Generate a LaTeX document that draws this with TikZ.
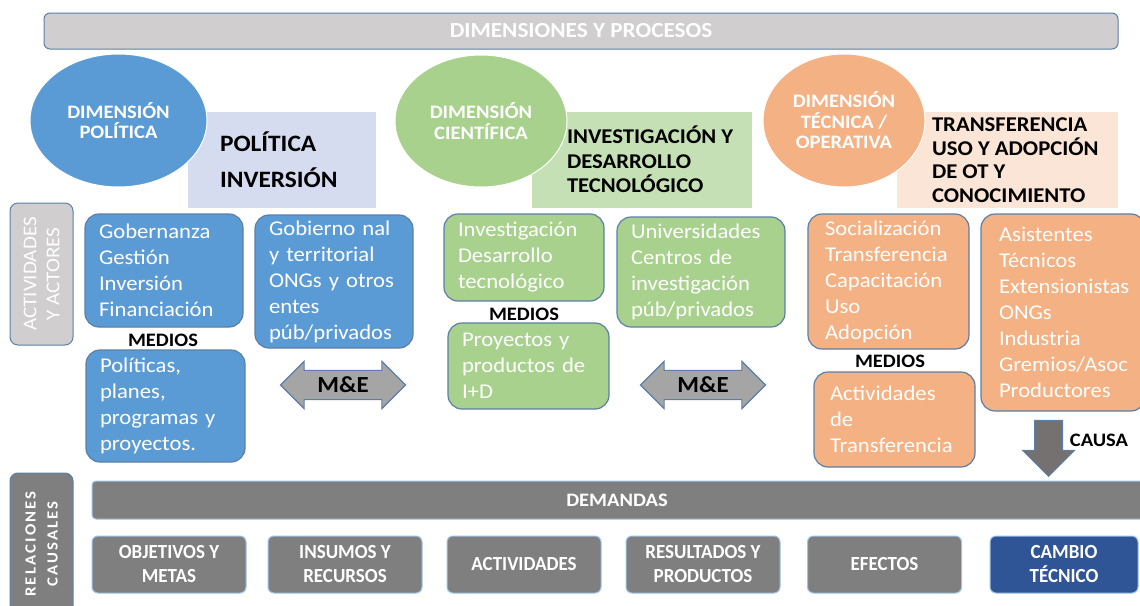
\documentclass[tikz,border=0pt]{standalone}
\usepackage{fontspec}
\setmainfont{Carlito}[FakeStretch=1.08]
\newfontfamily\narrowfont{Carlito}[FakeStretch=0.95]
\usetikzlibrary{shapes.geometric,shapes.arrows}

\definecolor{topgray}{HTML}{D0CECE}
\definecolor{edgeblue}{HTML}{5B7FA6}
\definecolor{lightedge}{HTML}{9DC3E6}
\definecolor{polblue}{HTML}{5B9BD5}
\definecolor{polpale}{HTML}{D5DCEF}
\definecolor{cienverde}{HTML}{A9D18E}
\definecolor{cienpale}{HTML}{C5E0B4}
\definecolor{tecnaranja}{HTML}{F4B183}
\definecolor{tecpale}{HTML}{FBE5D6}
\definecolor{demgray}{HTML}{7F7F7F}
\definecolor{megray}{HTML}{A5A5A5}
\definecolor{causegray}{HTML}{767171}
\definecolor{cambioblue}{HTML}{2F5597}

\tikzset{
  dimcircle/.style={ellipse, draw=white, line width=1pt, text=white, align=center, inner sep=0pt,
    font=\fontsize{19}{20.5}\selectfont\bfseries},
  headbox/.style={rectangle, minimum height=96pt, inner sep=0pt},
  headtext/.style={anchor=west, align=left, inner sep=0pt},
  cbox/.style={rectangle, rounded corners=14pt, draw=edgeblue, line width=1.2pt, text=white, align=left,
    inner xsep=14pt, inner ysep=0pt, font=\fontsize{21}{26}\selectfont},
  medios/.style={font=\fontsize{19}{20}\selectfont\bfseries, inner sep=0pt},
  mearrow/.style={double arrow, fill=megray, draw=edgeblue, line width=1.2pt, minimum height=125pt,
    double arrow head extend=9pt, inner sep=6pt, font=\fontsize{23}{24}\selectfont\bfseries},
  sidebox/.style={rectangle, rounded corners=8pt, draw=edgeblue, line width=1pt, rotate=90, text=white,
    align=center, minimum width=142pt, minimum height=63pt},
  chainbox/.style={rectangle, rounded corners=6pt, fill=demgray, draw=lightedge, line width=1pt,
    minimum width=154pt, minimum height=57pt, text=white, align=center,
    font=\narrowfont\fontsize{20}{24}\selectfont\bfseries}
}

\begin{document}
\begin{tikzpicture}[x=1pt,y=-1pt]
\useasboundingbox (0,0) rectangle (1140,605);

\node[rectangle, rounded corners=6pt, fill=topgray, draw=edgeblue, line width=1pt, minimum width=1074pt,
  minimum height=36pt, text=white, font=\fontsize{21.5}{22}\selectfont\bfseries] (procesos) at (581,31)
  {DIMENSIONES Y PROCESOS};

\node[headbox, fill=polpale, minimum width=188pt] (polrect) at (282,160) {};
\node[headtext, font=\fontsize{23.5}{36}\selectfont\bfseries] (poltxt) at ([xshift=32pt]polrect.west)
  {POLÍTICA\\INVERSIÓN};
\node[headbox, fill=cienpale, minimum width=220pt] (cienrect) at (642,159.5) {};
\node[headtext, font=\fontsize{21}{24.5}\selectfont\bfseries] (ciental) at ([xshift=35pt]cienrect.west)
  {INVESTIGACIÓN Y\\DESARROLLO\\TECNOLÓGICO};
\node[headbox, fill=tecpale, minimum width=221pt] (tecrect) at (1007.5,160) {};
\node[headtext, font=\fontsize{21}{23.5}\selectfont\bfseries] (tectxt) at ([xshift=35pt]tecrect.west)
  {TRANSFERENCIA\\USO Y ADOPCIÓN\\DE OT Y\\CONOCIMIENTO};

\node[dimcircle, fill=polblue, minimum width=177pt, minimum height=133pt] (dimpol) at (118.5,120.5)
  {DIMENSIÓN\\POLÍTICA};
\node[dimcircle, fill=cienverde, minimum width=172pt, minimum height=132pt] (dimcien) at (481,121)
  {DIMENSIÓN\\CIENTÍFICA};
\node[dimcircle, fill=tecnaranja, minimum width=162pt, minimum height=133pt] (dimtec) at (844,120.5)
  {DIMENSIÓN\\TÉCNICA /\\OPERATIVA};

\node[sidebox, fill=topgray, font=\fontsize{19.5}{23}\selectfont] (actores) at (41.5,274)
  {ACTIVIDADES\\Y ACTORES};

\node[cbox, fill=polblue, text width=130pt, minimum height=113pt] (gober) at (164,270.5)
  {Gobernanza\\Gestión\\Inversión\\Financiación};
\node[medios] (mediospol) at (163,340) {MEDIOS};
\node[cbox, fill=polblue, text width=131pt, minimum height=112pt] (politicas) at (165.5,406)
  {Políticas,\\planes,\\programas y\\proyectos.};
\node[cbox, fill=polblue, text width=130pt, minimum height=133pt] (gobierno) at (334,281.5)
  {Gobierno nal\\y territorial\\ONGs y otros\\entes\\púb/privados};
\node[mearrow] (mepol) at (343,385) {M\&E};

\node[cbox, fill=cienverde, text width=132pt, minimum height=87pt] (investig) at (524,257.5)
  {Investigación\\Desarrollo\\tecnológico};
\node[medios] (medioscien) at (524,314) {MEDIOS};
\node[cbox, fill=cienverde, text width=133pt, minimum height=86pt] (proyectos) at (528.5,366)
  {Proyectos y\\productos de\\I+D};
\node[cbox, fill=cienverde, text width=140pt, minimum height=110pt] (univ) at (701,272)
  {Universidades\\Centros de\\investigación\\púb/privados};
\node[mearrow] (mecien) at (703,385) {M\&E};

\node[cbox, fill=tecnaranja, inner xsep=17pt, text width=127pt, minimum height=135pt] (social) at (888.5,281.5)
  {Socialización\\Transferencia\\Capacitación\\Uso\\Adopción};
\node[medios] (mediostec) at (890,361) {MEDIOS};
\node[cbox, fill=tecnaranja, inner xsep=16pt, text width=129pt, minimum height=95pt] (activ) at (894.5,419.5)
  {Actividades\\de\\Transferencia};
\node[cbox, fill=tecnaranja, inner xsep=18pt, text width=128pt, minimum height=197pt] (asist) at (1063,312.5)
  {Asistentes\\Técnicos\\Extensionistas\\ONGs\\Industria\\Gremios/Asoc\\Productores};

\node[single arrow, fill=causegray, draw=edgeblue, line width=1pt, shape border rotate=270, anchor=tip,
  minimum height=56pt, single arrow head extend=12pt, inner sep=0pt] (causa) at (1048.5,477)
  {\rule{27pt}{0pt}\rule{0pt}{27pt}};
\node[font=\fontsize{19}{20}\selectfont\bfseries] (causatxt) at (1099,440) {CAUSA};

\node[sidebox, fill=demgray, font=\fontsize{15.5}{22}\selectfont\bfseries\addfontfeatures{LetterSpace=14}]
  (relaciones) at (41.5,544) {RELACIONES\\CAUSALES};

\node[rectangle, rounded corners=4pt, fill=demgray, draw=lightedge, line width=1pt, minimum width=1053pt,
  minimum height=38pt] (demandasbar) at (618.5,500) {};
\node[text=white, font=\fontsize{19}{20}\selectfont\bfseries] (demandas) at (617,500) {DEMANDAS};

\node[chainbox] (objetivos) at (169,564.5) {OBJETIVOS Y\\METAS};
\node[chainbox] (insumos) at (345,564.5) {INSUMOS Y\\RECURSOS};
\node[chainbox] (actividades) at (524,564.5) {ACTIVIDADES};
\node[chainbox] (resultados) at (703,564.5) {RESULTADOS Y\\PRODUCTOS};
\node[chainbox] (efectos) at (884.5,564.5) {EFECTOS};
\node[chainbox, fill=cambioblue, minimum width=148pt] (cambio) at (1064,564.5) {CAMBIO\\TÉCNICO};
\end{tikzpicture}
\end{document}
